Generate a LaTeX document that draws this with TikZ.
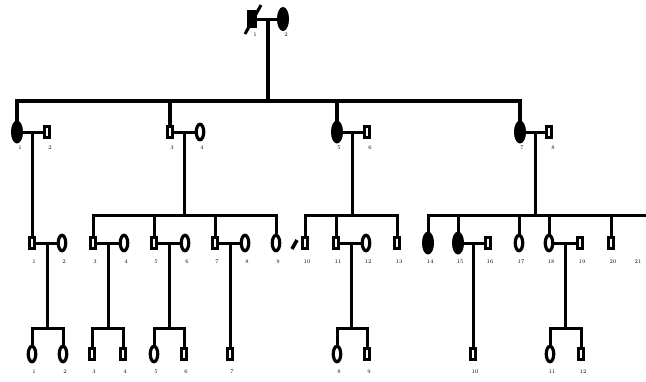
\documentclass[tikz,border=0pt]{standalone}
\usetikzlibrary{shapes.geometric,calc}
\begin{document}
\begin{tikzpicture}[x=1pt,y=-1pt,
  ln/.style={line width=3pt,line join=miter},
  malebox/.style={draw,line width=2.8pt,fill=white,rectangle,minimum width=5pt,minimum height=10.5pt,inner sep=0pt},
  femopen/.style={draw,line width=3.2pt,fill=white,ellipse,minimum width=7.5pt,minimum height=15.5pt,inner sep=0pt},
  femaff/.style={draw,line width=1pt,fill=black,ellipse,minimum width=11pt,minimum height=22pt,inner sep=0pt},
  lbl/.style={font=\fontsize{5.5}{6}\selectfont,inner sep=0pt}]
\useasboundingbox (0,0) rectangle (646,381);
\fill[white] (0,0) rectangle (646,381);

% ---------- Generation I ----------
\node[draw,fill=black,line width=1pt,rectangle,minimum width=9pt,minimum height=17pt,inner sep=0pt] (I1) at (252,19) {};
\node[femaff,minimum width=11pt,minimum height=23pt] (I2) at (283,19) {};
\draw[line width=3pt] (245,34) -- (261,5);
\draw[ln] (I1.east) -- (I2.west);
\coordinate (dI) at (268,19);
\draw[ln,line width=3.4pt] (dI) -- (dI |- 0,101);
\node[lbl] (lI1) at (255,35) {1};
\node[lbl] (lI2) at (286,35) {2};

% ---------- Generation II ----------
\node[femaff] (II1) at (17,132) {};
\node[malebox] (II2) at (47,132) {};
\node[malebox] (II3) at (170,132) {};
\node[femopen] (II4) at (200,132) {};
\node[femaff] (II5) at (337,132) {};
\node[malebox] (II6) at (367,132) {};
\node[femaff] (II7) at (520,132) {};
\node[malebox] (II8) at (549,132) {};
\draw[ln,line width=3.6pt] (II1.north) -- (II1.north |- 0,101) -- (II7.north |- 0,101) -- (II7.north);
\foreach \n in {II3,II5} \draw[ln,line width=3.4pt] (\n.north) -- (\n.north |- 0,101);
\foreach \a/\b in {II1/II2,II3/II4,II5/II6,II7/II8} \draw[ln] (\a.east) -- (\b.west);
\foreach \n/\t/\x in {II1/1/20,II2/2/50,II3/3/172,II4/4/202,II5/5/339,II6/6/370,II7/7/522,II8/8/553}
  \node[lbl] (l\n) at (\x,148) {\t};
\coordinate (d1) at (32,132);
\coordinate (d2) at (184,132);
\coordinate (d3) at (352,132);
\coordinate (d4) at (535,132);

% ---------- Generation III ----------
\node[malebox] (III1) at (32,243) {};
\node[femopen] (III2) at (62,243) {};
\node[malebox] (III3) at (93,243) {};
\node[femopen] (III4) at (124,243) {};
\node[malebox] (III5) at (154,243) {};
\node[femopen] (III6) at (185,243) {};
\node[malebox] (III7) at (215,243) {};
\node[femopen] (III8) at (245,243) {};
\node[femopen] (III9) at (276,243) {};
\node[malebox] (III10) at (305,243) {};
\node[malebox] (III11) at (336,243) {};
\node[femopen] (III12) at (366,243) {};
\node[malebox] (III13) at (397,243) {};
\node[femaff] (III14) at (428,243) {};
\node[femaff] (III15) at (458,243) {};
\node[malebox] (III16) at (488,243) {};
\node[femopen] (III17) at (519,243) {};
\node[femopen] (III18) at (549,243) {};
\node[malebox] (III19) at (580,243) {};
\node[malebox] (III20) at (611,243) {};
\coordinate (III21) at (646,215);
% proband mark
\draw[line width=3.6pt] (292,249) -- (297,240);

% descent from II-1 / II-2
\draw[ln] (d1) -- (III1.north);
% sibship of II-3 / II-4
\draw[ln] (d2) -- (d2 |- 0,215);
\draw[ln] (III3.north) -- (III3.north |- 0,215) -- (III9.north |- 0,215) -- (III9.north);
\foreach \n in {III5,III7} \draw[ln] (\n.north) -- (\n.north |- 0,215);
% sibship of II-5 / II-6
\draw[ln] (d3) -- (d3 |- 0,215);
\draw[ln] (III10.north) -- (III10.north |- 0,215) -- (III13.north |- 0,215) -- (III13.north);
\draw[ln] (III11.north) -- (III11.north |- 0,215);
% sibship of II-7 / II-8
\draw[ln] (d4) -- (d4 |- 0,215);
\draw[ln] (III14.north) -- (III14.north |- 0,215) -- (III21);
\foreach \n in {III15,III17,III18,III20} \draw[ln] (\n.north) -- (\n.north |- 0,215);
% marriages
\foreach \a/\b in {III1/III2,III3/III4,III5/III6,III7/III8,III11/III12,III15/III16,III18/III19} \draw[ln] (\a.east) -- (\b.west);
\foreach \n/\t in {III1/1,III2/2,III3/3,III4/4,III5/5,III6/6,III7/7,III8/8,III9/9,III10/10,III11/11,III12/12,III13/13,III14/14,III15/15,III16/16,III17/17,III18/18,III19/19,III20/20}
  \node[lbl] (l\n) at ([xshift=2pt]\n |- 0,262) {\t};
\node[lbl] (lIII21) at (638,262) {21};

\coordinate (e1) at (47,243);
\coordinate (e2) at (108,243);
\coordinate (e3) at (169,243);
\coordinate (e4) at (230,243);
\coordinate (e5) at (351,243);
\coordinate (e6) at (473,243);
\coordinate (e7) at (565,243);

% ---------- Generation IV ----------
\node[femopen] (IV1) at (32,354) {};
\node[femopen] (IV2) at (63,354) {};
\node[malebox] (IV3) at (92,354) {};
\node[malebox] (IV4) at (123,354) {};
\node[femopen] (IV5) at (154,354) {};
\node[malebox] (IV6) at (184,354) {};
\node[malebox] (IV7) at (230,354) {};
\node[femopen] (IV8) at (337,354) {};
\node[malebox] (IV9) at (367,354) {};
\node[malebox] (IV10) at (473,354) {};
\node[femopen] (IV11) at (550,354) {};
\node[malebox] (IV12) at (581,354) {};

\foreach \e/\a/\b in {e1/IV1/IV2,e2/IV3/IV4,e3/IV5/IV6,e5/IV8/IV9,e7/IV11/IV12} {
  \draw[ln] (\e) -- (\e |- 0,328);
  \draw[ln] (\a.north) -- (\a.north |- 0,328) -- (\b.north |- 0,328) -- (\b.north);
}
\draw[ln] (e4) -- (IV7.north);
\draw[ln] (e6) -- (IV10.north);
\foreach \n/\t in {IV1/1,IV2/2,IV3/3,IV4/4,IV5/5,IV6/6,IV7/7,IV8/8,IV9/9,IV10/10,IV11/11,IV12/12}
  \node[lbl] (l\n) at ([xshift=2pt]\n |- 0,372) {\t};
\end{tikzpicture}
\end{document}
